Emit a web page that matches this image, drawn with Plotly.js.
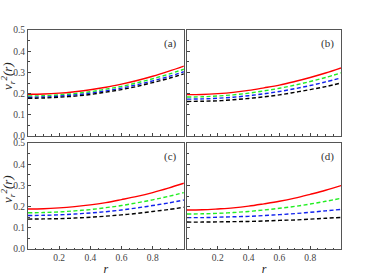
<!DOCTYPE html>
<html>
<head>
<meta charset="utf-8">
<script src="https://cdn.plot.ly/plotly-3.0.1.min.js"></script>
<style>html,body{margin:0;padding:0;background:#fff;}#chart{width:370px;height:279px;}</style>
</head>
<body>
<div id="chart"></div>
<script>
const r = [0,0.1,0.2,0.3,0.4,0.5,0.6,0.7,0.8,0.9,1.0];
const xTicks = [0.2,0.4,0.6,0.8];
const yTicks = [0,0.1,0.2,0.3,0.4,0.5];
const panelLabels = ['(a)','(b)','(c)','(d)'];

const aRed   = [0.197,0.198,0.202,0.209,0.218,0.230,0.245,0.262,0.282,0.305,0.330];
const aGreen = [0.189,0.190,0.194,0.200,0.209,0.221,0.234,0.251,0.270,0.291,0.315];
const aBlue  = [0.183,0.184,0.188,0.194,0.202,0.213,0.226,0.242,0.260,0.280,0.303];
const aBlack = [0.178,0.179,0.183,0.188,0.196,0.207,0.219,0.234,0.252,0.271,0.293];

const bRed   = [0.195,0.196,0.200,0.206,0.215,0.227,0.240,0.257,0.276,0.297,0.321];
const bGreen = [0.184,0.185,0.189,0.194,0.202,0.213,0.225,0.240,0.257,0.276,0.298];
const bBlue  = [0.174,0.175,0.178,0.183,0.190,0.199,0.210,0.223,0.238,0.255,0.274];
const bBlack = [0.163,0.164,0.166,0.171,0.177,0.185,0.194,0.206,0.219,0.233,0.250];

const cRed   = [0.189,0.190,0.194,0.200,0.208,0.219,0.233,0.248,0.266,0.287,0.310];
const cGreen = [0.171,0.172,0.175,0.180,0.186,0.195,0.205,0.218,0.232,0.248,0.266];
const cBlue  = [0.158,0.159,0.161,0.165,0.170,0.176,0.184,0.194,0.205,0.217,0.231];
const cBlack = [0.141,0.142,0.143,0.146,0.150,0.155,0.161,0.168,0.177,0.186,0.197];

const dRed   = [0.184,0.185,0.189,0.194,0.202,0.213,0.225,0.240,0.258,0.277,0.299];
const dGreen = [0.165,0.166,0.168,0.172,0.177,0.184,0.192,0.201,0.212,0.225,0.239];
const dBlue  = [0.148,0.148,0.150,0.152,0.154,0.158,0.162,0.167,0.173,0.180,0.187];
const dBlack = [0.127,0.127,0.128,0.129,0.130,0.132,0.135,0.137,0.141,0.145,0.149];

const panels = [
  [aRed,aGreen,aBlue,aBlack],
  [bRed,bGreen,bBlue,bBlack],
  [cRed,cGreen,cBlue,cBlack],
  [dRed,dGreen,dBlue,dBlack]
];
const colors = ['#ff0000','#22ee22','#1122ee','#000000'];
const dashes = ['solid','4px,2.5px','4px,2.5px','4px,2.5px'];

const traces = [];
panels.forEach((p,i)=>{
  const sfx = i===0 ? '' : String(i+1);
  p.forEach((ys,j)=>{
    traces.push({x:r,y:ys,type:'scatter',mode:'lines',line:{shape:'spline',color:colors[j],width:1.4,dash:dashes[j]},
      xaxis:'x'+sfx,yaxis:'y'+sfx,showlegend:false,hoverinfo:'skip'});
  });
});

const SERIF = 'Liberation Serif';
const tickFont = {family:SERIF,size:9.5,color:'#444'};
const xdom = [[0,0.498],[0.508,1],[0,0.498],[0.508,1]];
const ydom = [[0.516,1],[0.516,1],[0,0.484],[0,0.484]];
const layout = {
  width:370,height:279,
  margin:{l:28,r:29,t:30,b:30},
  paper_bgcolor:'#fff',plot_bgcolor:'#fff',
  showlegend:false,
  font:{family:SERIF},
  annotations:[]
};
for(let i=0;i<4;i++){
  const sfx = i===0 ? '' : String(i+1);
  const bottom = i>=2, left = (i%2===0);
  layout['xaxis'+sfx] = {
    domain:xdom[i],anchor:'y'+sfx,range:[0,1],
    tickvals:xTicks,ticktext:xTicks.map(v=>v.toFixed(1)),
    showticklabels:bottom,ticks:'inside',ticklen:3,tickcolor:'#444',
    minor:{ticks:'inside',dtick:0.05,ticklen:1.5,tickcolor:'#444'},
    showline:true,linecolor:'#555',linewidth:1,mirror:true,
    showgrid:false,zeroline:false,tickfont:tickFont,
    title: bottom ? {text:'<i>r</i>',font:{family:SERIF,size:12,color:'#222'},standoff:2} : {text:''}
  };
  layout['yaxis'+sfx] = {
    domain:ydom[i],anchor:'x'+sfx,range:[0,0.5],
    tickvals:yTicks,ticktext:yTicks.map(v=>v.toFixed(1)),
    showticklabels:left,ticks:'inside',ticklen:3,tickcolor:'#444',
    minor:{ticks:'inside',dtick:0.05,ticklen:1.5,tickcolor:'#444'},
    showline:true,linecolor:'#555',linewidth:1,mirror:true,
    showgrid:false,zeroline:false,tickfont:tickFont,
    title:{text:''}
  };
  if(left){
    layout.annotations.push({
      text:'<i>v<sub>r</sub><sup>2</sup>(r)</i>',xref:'paper',yref:'y'+sfx+' domain',
      x:-0.066,y:0.57,xanchor:'center',yanchor:'middle',textangle:-90,showarrow:false,
      font:{family:SERIF,size:13,color:'#222'}
    });
  }
  layout.annotations.push({
    text:panelLabels[i],xref:'x'+sfx+' domain',yref:'y'+sfx+' domain',
    x:0.97,y:0.95,xanchor:'right',yanchor:'top',showarrow:false,
    font:{family:SERIF,size:11,color:'#333'}
  });
}
Plotly.newPlot('chart',traces,layout,{staticPlot:true,displayModeBar:false});
</script>
</body>
</html>
